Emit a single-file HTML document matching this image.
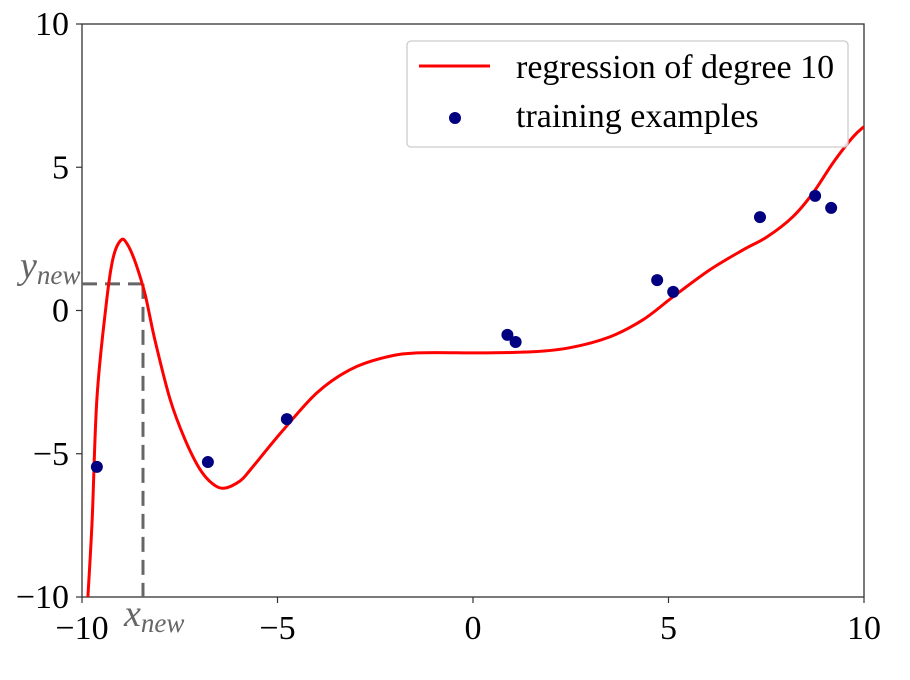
<!DOCTYPE html>
<html><head><meta charset="utf-8"><style>
body{margin:0;background:#fff}
svg text{font-family:"Liberation Serif",serif}
</style></head><body>
<svg id="chart" width="910" height="675" xmlns="http://www.w3.org/2000/svg">
<g id="plot"></g>
</svg>
<script>
const xTicks=[-10,-5,0,5,10];
const yTicks=[-10,-5,0,5,10];
const xTickLabels=["\u221210","\u22125","0","5","10"];
const yTickLabels=["\u221210","\u22125","0","5","10"];
const pointX=[-9.62,-6.78,-4.76,0.88,1.09,4.71,5.12,7.34,8.75,9.16];
const pointY=[-5.46,-5.29,-3.79,-0.85,-1.10,1.06,0.65,3.26,4.0,3.58];
const curveX=[-9.85,-9.74,-9.62,-9.39,-9.21,-9.0,-8.83,-8.62,-8.39,-8.14,-7.75,-7.37,-6.99,-6.65,-6.35,-5.96,-5.70,-4.86,-3.99,-3.15,-2.30,-1.43,0.26,1.53,2.48,3.50,4.35,5.12,6.06,6.91,7.52,8.18,8.70,9.21,9.72,10];
const curveY=[-10,-7.28,-3.09,0.12,1.80,2.46,2.29,1.62,0.58,-1.0,-3.09,-4.49,-5.53,-6.06,-6.2,-5.95,-5.57,-4.18,-2.87,-2.07,-1.65,-1.48,-1.48,-1.44,-1.30,-0.92,-0.32,0.48,1.42,2.12,2.57,3.27,4.11,5.16,6.06,6.42];
const xNew=-8.44, yNew=0.93;
const X0=82,X1=864,Y0=597,Y1=24;
const sx=v=>X0+(v+10)/20*(X1-X0);
const sy=v=>Y0-(v+10)/20*(Y0-Y1);
const NS="http://www.w3.org/2000/svg";
const g=document.getElementById('plot');
function mk(t,a){const e=document.createElementNS(NS,t);for(const k in a)e.setAttribute(k,a[k]);g.appendChild(e);return e;}
let fr=mk('rect',{x:X0,y:Y1,width:X1-X0,height:Y0-Y1,fill:'none',stroke:'#333','stroke-width':1.3});


xTicks.forEach((v,i)=>{
 let t=mk('line',{x1:sx(v),x2:sx(v),y1:Y0,y2:Y0+6,stroke:'#333','stroke-width':1.2});
 
 
 let l=mk('text',{x:sx(v),y:639,'font-size':34,'text-anchor':'middle',fill:'#000'});
 l.textContent=xTickLabels[i];
 
 
});
yTicks.forEach((v,i)=>{
 let t=mk('line',{x1:X0-6,x2:X0,y1:sy(v),y2:sy(v),stroke:'#333','stroke-width':1.2});
 
 
 let l=mk('text',{x:X0-13,y:sy(v)+11,'font-size':34,'text-anchor':'end',fill:'#000'});
 l.textContent=yTickLabels[i];
 
 
});
let dh=mk('line',{x1:X0,x2:sx(xNew),y1:sy(yNew),y2:sy(yNew),stroke:'#666','stroke-width':3,'stroke-dasharray':'15 8'});


let dv=mk('line',{x1:sx(xNew),x2:sx(xNew),y1:sy(yNew),y2:Y0,stroke:'#666','stroke-width':3,'stroke-dasharray':'15 8'});


let xl=mk('text',{x:sx(xNew)-19,y:626,'font-size':38,fill:'#666','font-style':'italic'});
xl.innerHTML='x<tspan font-size="27" dy="6">new</tspan>';


let yl=mk('text',{x:20,y:sy(yNew)-6,'font-size':38,fill:'#666','font-style':'italic'});
yl.innerHTML='y<tspan font-size="27" dy="6">new</tspan>';


const cp=mk('clipPath',{id:'cl'});
const cr=document.createElementNS(NS,'rect');cr.setAttribute('x',X0);cr.setAttribute('y',Y1);cr.setAttribute('width',X1-X0);cr.setAttribute('height',Y0-Y1);cp.appendChild(cr);
const P=curveX.map((v,i)=>[sx(v),sy(curveY[i])]);
let d='M'+P[0][0].toFixed(1)+','+P[0][1].toFixed(1);
for(let i=0;i<P.length-1;i++){
 const p0=P[Math.max(i-1,0)],p1=P[i],p2=P[i+1],p3=P[Math.min(i+2,P.length-1)];
 const c1=[p1[0]+(p2[0]-p0[0])/6,p1[1]+(p2[1]-p0[1])/6];
 const c2=[p2[0]-(p3[0]-p1[0])/6,p2[1]-(p3[1]-p1[1])/6];
 d+='C'+c1.map(n=>n.toFixed(1)).join(',')+' '+c2.map(n=>n.toFixed(1)).join(',')+' '+p2.map(n=>n.toFixed(1)).join(',');
}
let c=mk('path',{d:d,fill:'none',stroke:'#ff0000','stroke-width':3,'clip-path':'url(#cl)','stroke-linejoin':'round'});


pointX.forEach((v,i)=>{
 let p=mk('circle',{cx:sx(v),cy:sy(pointY[i]),r:6,fill:'#000080'});
 
 
});
let lb=mk('rect',{x:407,y:41,width:441,height:106,rx:4,fill:'#fff','fill-opacity':0.8,stroke:'#ccc','stroke-width':1.3});


let l1=mk('line',{x1:419,x2:490,y1:66,y2:66,stroke:'#ff0000','stroke-width':3});


let t1=mk('text',{x:516,y:78,'font-size':34,fill:'#000'});t1.textContent='regression of degree 10';


let l2=mk('circle',{cx:455,cy:118,r:6,fill:'#000080'});


let t2=mk('text',{x:516,y:127,'font-size':34,fill:'#000'});t2.textContent='training examples';


</script>
</body></html>
